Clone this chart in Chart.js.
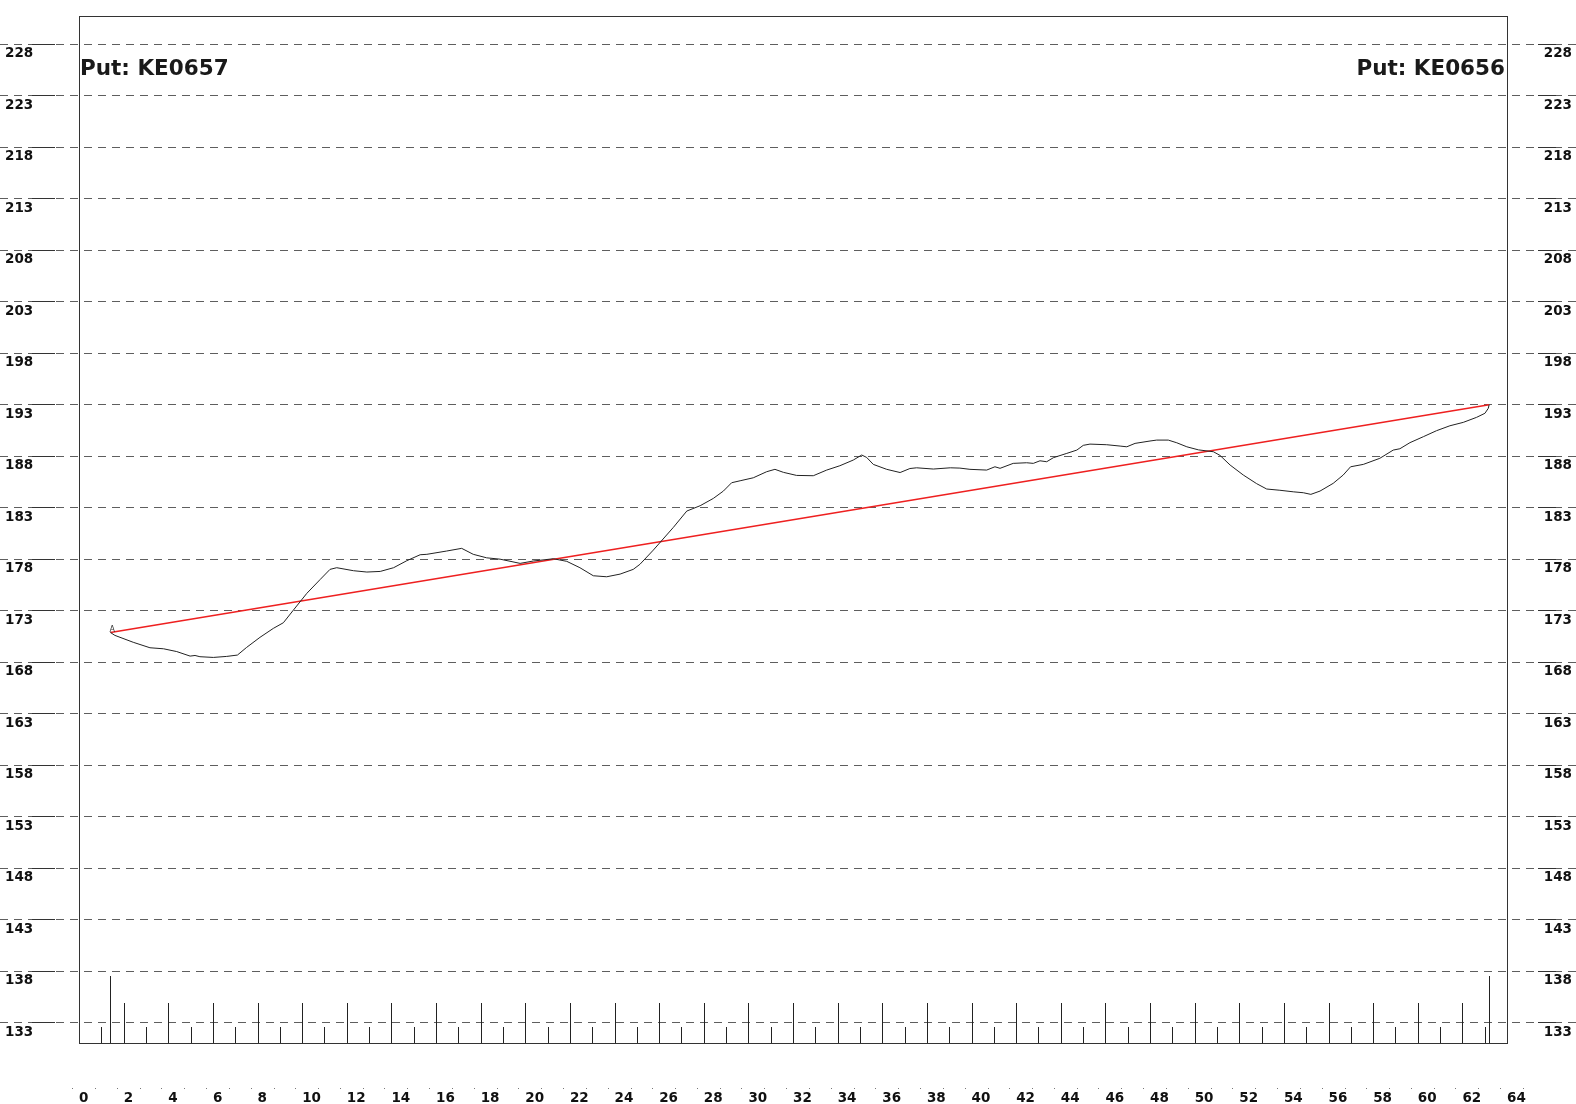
<!DOCTYPE html>
<html>
<head>
<meta charset="utf-8">
<script src="https://cdn.jsdelivr.net/npm/chart.js@4.4.0/dist/chart.umd.min.js"></script>
<style>
  html, body { margin: 0; padding: 0; background: #fff; }
</style>
</head>
<body>
<canvas id="profileChart" width="1576" height="1104"></canvas>
<script>
// profile data (distance along route, elevation)
const profileKm = [1.41, 1.61, 2.43, 3.18, 3.79, 4.38, 4.98, 5.2, 5.42, 6.02, 6.62, 7.1, 7.51, 8.11, 8.71, 9.16, 9.61, 10.21, 10.81, 11.25,
  11.55, 12.3, 12.9, 13.5, 14.1, 14.69, 15.29, 15.59, 16.48, 17.15, 17.67, 18.27, 18.87, 19.77, 20.36, 21.26, 21.86, 22.45, 23.05, 23.65,
  24.25, 24.84, 25.14, 25.74, 26.64, 27.24, 27.84, 28.43, 28.88, 29.25, 29.63, 30.22, 30.82, 31.19, 31.57, 32.16, 32.91, 33.51, 34.1, 34.7,
  35.08, 35.3, 35.6, 36.2, 36.8, 37.24, 37.54, 38.29, 39.05, 39.48, 39.93, 40.68, 41.05, 41.28, 41.87, 42.47, 42.77, 43.07, 43.37, 43.67,
  44.27, 44.72, 45.01, 45.31, 46.06, 46.66, 46.96, 47.33, 48.0, 48.3, 48.82, 49.2, 49.65, 50.17, 50.84, 51.14, 51.59, 52.18, 52.78, 53.23,
  53.82, 54.42, 54.87, 55.21, 55.62, 56.21, 56.66, 56.99, 57.56, 58.3, 58.9, 59.2, 59.65, 60.25, 60.84, 61.44, 62.04, 62.64, 63.01, 63.16, 63.2]
const profileElev = [170.85, 170.57, 169.9, 169.37, 169.27, 169.0, 168.56, 168.62, 168.5, 168.43, 168.53, 168.66, 169.4, 170.38, 171.25, 171.8, 173.03, 174.65, 176.0, 176.98,
  177.14, 176.85, 176.72, 176.78, 177.14, 177.82, 178.4, 178.44, 178.76, 179.02, 178.44, 178.1, 177.97, 177.56, 177.79, 178.01, 177.76, 177.14, 176.36, 176.26,
  176.52, 176.98, 177.47, 178.85, 181.06, 182.64, 183.16, 183.87, 184.58, 185.39, 185.58, 185.87, 186.46, 186.69, 186.4, 186.1, 186.07, 186.62, 187.04, 187.59,
  188.08, 187.85, 187.17, 186.69, 186.38, 186.77, 186.84, 186.72, 186.84, 186.81, 186.69, 186.62, 186.94, 186.79, 187.27, 187.33, 187.27, 187.52, 187.43, 187.82,
  188.24, 188.56, 189.02, 189.14, 189.08, 188.95, 188.88, 189.21, 189.44, 189.53, 189.53, 189.27, 188.88, 188.58, 188.4, 188.04, 187.11, 186.14, 185.3, 184.78,
  184.66, 184.51, 184.42, 184.26, 184.58, 185.33, 186.14, 186.94, 187.17, 187.76, 188.56, 188.69, 189.28, 189.86, 190.44, 190.92, 191.25, 191.74, 192.13, 192.61, 192.95]

// straight line between the two end points
const chordKm = [1.41, 63.2]
const chordElev = [170.85, 192.95]

const elevTicks = [133, 138, 143, 148, 153, 158, 163, 168, 173, 178, 183, 188, 193, 198, 203, 208, 213, 218, 223, 228]
const titleLeft = 'Put: KE0657'
const titleRight = 'Put: KE0656'
const startLabel = 'A'

Chart.defaults.font.family = 'DejaVu Sans'
Chart.defaults.color = '#111'

const toPoints = (xs, ys) => xs.map((v, i) => ({x: v, y: ys[i]}))

const useElevTicks = scale => { scale.ticks = elevTicks.map(v => ({value: v})) }

const profileDecor = {
    id: 'profileDecor',
    beforeDatasetsDraw(chart) {
        const {ctx, width, chartArea: {left, right, bottom}, scales: {x, y}} = chart
        ctx.save()
        ctx.lineWidth = 1
        // dashed grid across whole width
        elevTicks.forEach(v => {
            const py = Math.round(y.getPixelForValue(v)) + 0.5
            ctx.strokeStyle = '#5e5e5e'
            ctx.setLineDash([8, 6])
            ctx.beginPath()
            ctx.moveTo(0, py)
            ctx.lineTo(width, py)
            ctx.stroke()
            ctx.setLineDash([])
            ctx.strokeStyle = '#333'
            ctx.beginPath()
            ctx.moveTo(left - 47, py)
            ctx.lineTo(left - 24, py)
            ctx.moveTo(right + 31, py)
            ctx.lineTo(right + 49, py)
            ctx.stroke()
        })
        // distance ticks from the bottom edge
        ctx.strokeStyle = '#222'
        for (let km = x.min; km <= x.max; km++) {
            const px = Math.round(x.getPixelForValue(km)) + 0.5
            const len = km % 2 === 0 ? 40 : 16
            ctx.beginPath()
            ctx.moveTo(px, bottom)
            ctx.lineTo(px, bottom - len)
            ctx.stroke()
        }
        chordKm.forEach(km => {
            const px = Math.round(x.getPixelForValue(km)) + 0.5
            ctx.beginPath()
            ctx.moveTo(px, bottom)
            ctx.lineTo(px, bottom - 67)
            ctx.stroke()
        })
        // little dots around the distance labels
        ctx.fillStyle = '#777'
        for (let km = x.min; km <= x.max; km += 2) {
            const px = Math.round(x.getPixelForValue(km))
            ctx.fillRect(px - 7, bottom + 45, 1, 1)
            ctx.fillRect(px + 16, bottom + 45, 1, 1)
        }
        ctx.restore()
    },
    afterDatasetsDraw(chart) {
        const {ctx, chartArea: {left, right, top, bottom}, scales: {x, y}} = chart
        ctx.save()
        ctx.strokeStyle = '#333'
        ctx.lineWidth = 1
        ctx.strokeRect(left + 0.5, top + 0.5, right - left, bottom - top)
        ctx.fillStyle = '#1a1a1a'
        ctx.font = 'bold 21.5px "DejaVu Sans"'
        ctx.textBaseline = 'alphabetic'
        ctx.textAlign = 'left'
        ctx.fillText(titleLeft, left + 1, top + 59)
        ctx.textAlign = 'right'
        ctx.fillText(titleRight, right - 2, top + 59)
        ctx.font = '8px "DejaVu Sans"'
        ctx.textAlign = 'left'
        ctx.textBaseline = 'bottom'
        ctx.fillStyle = '#333'
        ctx.fillText(startLabel, x.getPixelForValue(chordKm[0]) - 1, y.getPixelForValue(chordElev[0]) + 1)
        ctx.restore()
    }
}

const tickFont = {size: 13.5, weight: 'bold'}

const chart = new Chart(document.getElementById('profileChart'), {
    type: 'line',
    data: {
        datasets: [{
            label: 'Profile',
            data: toPoints(profileKm, profileElev),
            borderColor: '#222',
            borderWidth: 1,
            pointRadius: 0,
            tension: 0,
        },
        {
            label: 'Chord',
            data: toPoints(chordKm, chordElev),
            borderColor: '#ee2020',
            borderWidth: 1.5,
            pointRadius: 0,
        }]
    },
    options: {
        responsive: false,
        animation: false,
        layout: {
            padding: {top: 16, left: 5, right: 4, bottom: 0}
        },
        plugins: {
            legend: {display: false},
            tooltip: {enabled: false},
        },
        scales: {
            x: {
                type: 'linear',
                min: 0,
                max: 64,
                grid: {display: false, drawTicks: false},
                border: {display: false},
                ticks: {
                    stepSize: 2,
                    autoSkip: false,
                    maxRotation: 0,
                    align: 'start',
                    padding: 47,
                    font: tickFont,
                    color: '#111',
                },
                afterFit(scale) { scale.height = 61 },
            },
            y: {
                position: 'left',
                min: 131,
                max: 230.7,
                grid: {display: false, drawTicks: false},
                border: {display: false},
                afterBuildTicks: useElevTicks,
                ticks: {
                    crossAlign: 'far',
                    labelOffset: 10,
                    font: tickFont,
                    color: '#111',
                },
                afterFit(scale) { scale.width = 74 },
            },
            y2: {
                position: 'right',
                min: 131,
                max: 230.7,
                grid: {display: false, drawTicks: false},
                border: {display: false},
                afterBuildTicks: useElevTicks,
                ticks: {
                    crossAlign: 'far',
                    labelOffset: 10,
                    font: tickFont,
                    color: '#111',
                },
                afterFit(scale) { scale.width = 65 },
            }
        }
    },
    plugins: [profileDecor],
})
</script>
</body>
</html>
